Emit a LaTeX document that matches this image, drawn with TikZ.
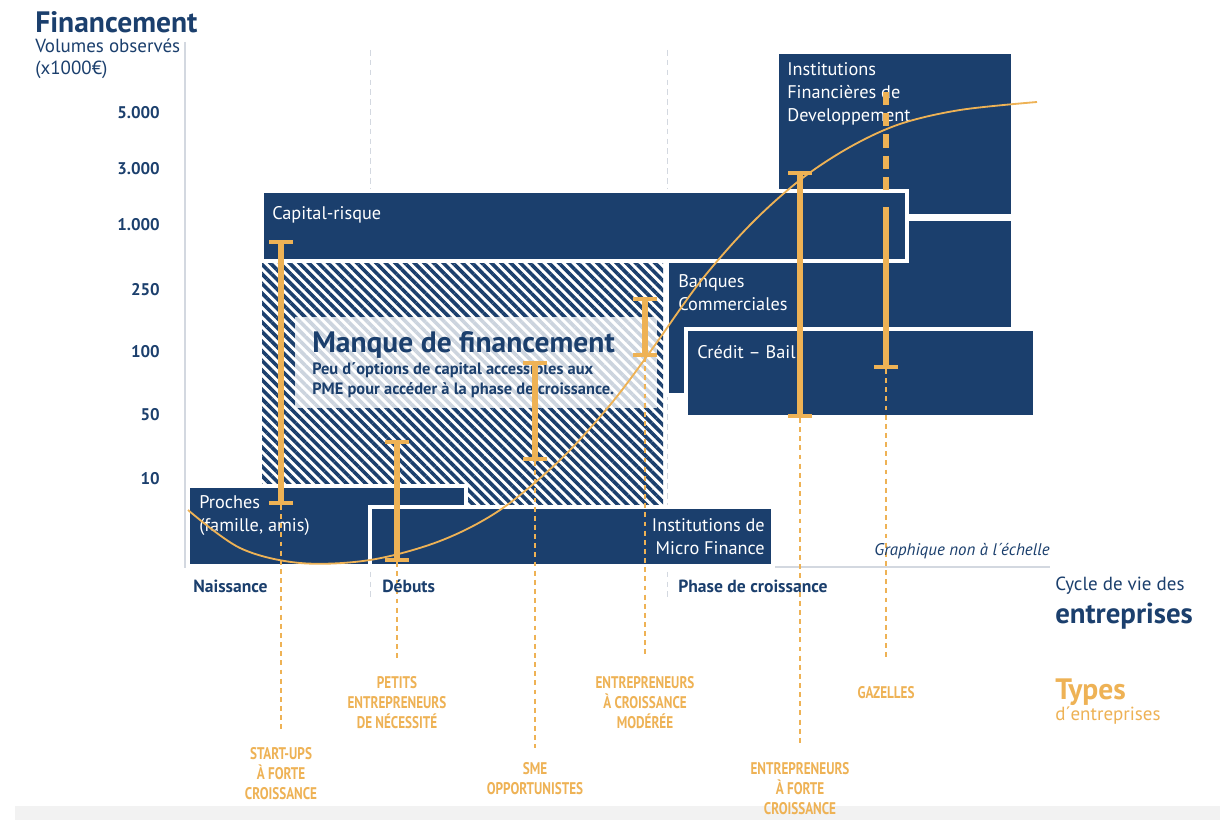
\documentclass[tikz,border=0pt]{standalone}
\usepackage{fontspec}
\setmainfont{PT Sans}
\newfontfamily\condfont[FakeStretch=0.78]{PT Sans}
\usetikzlibrary{arrows.meta,patterns.meta}
\definecolor{navy}{HTML}{1B3F6D}
\definecolor{gold}{HTML}{EEB255}
\definecolor{axisgray}{HTML}{D3D8E0}

\begin{document}
\begin{tikzpicture}[
    x=0.025cm, y=-0.025cm,
    finbox/.style={
        fill=navy,
        draw=white,
        line width=2.2pt
    },
    boxtext/.style={
        text=white,
        font=\fontsize{13}{16.3}\selectfont,
        inner sep=0pt,
        anchor=north west,
        align=left
    },
    ticklabel/.style={text=navy, font=\bfseries\fontsize{12}{14}\selectfont, inner sep=0pt, anchor=east},
    phaselabel/.style={text=navy, font=\bfseries\fontsize{12.5}{15}\selectfont, inner sep=0pt, anchor=west},
    typelabel/.style={
        text=gold,
        font=\condfont\bfseries\fontsize{12}{14.2}\selectfont,
        inner sep=0pt,
        anchor=north,
        align=center
    },
    ibar/.style={gold, line width=4.3pt, arrows={Bar[width=0.6cm, line width=0.09cm]-Bar[width=0.6cm, line width=0.09cm]}},
    dropline/.style={gold, line width=0.8pt, dash pattern=on 3.5pt off 3pt, shorten >=0.45cm},
    guide/.style={axisgray, line width=0.7pt, dash pattern=on 4pt off 3pt},
    lifecurve/.style={gold, line width=1.3pt}
]

\useasboundingbox (0,0) rectangle (1220,820);
\fill[white] (0,0) rectangle (1220,820);
\fill[black!5] (15,806) rectangle (1220,820);

\draw[guide] (370,50) -- (370,598);
\draw[guide] (667,50) -- (667,598);
\draw[axisgray, line width=1.4pt] (185,42) -- (185,567) -- (1050,567);

\node[text=navy, font=\bfseries\fontsize{21}{24}\selectfont, inner sep=0pt, anchor=west] (fin) at (35,22) {Financement};
\node[text=navy, font=\fontsize{13.5}{16}\selectfont, inner sep=0pt, anchor=west] (vol) at (35,46) {Volumes observés};
\node[text=navy, font=\fontsize{13.5}{16}\selectfont, inner sep=0pt, anchor=west] (unit) at (35,70) {(x1000€)};

\node[ticklabel] (t5000) at (160,113) {5.000};
\node[ticklabel] (t3000) at (160,169) {3.000};
\node[ticklabel] (t1000) at (160,225) {1.000};
\node[ticklabel] (t250) at (160,290) {250};
\node[ticklabel] (t100) at (160,352) {100};
\node[ticklabel] (t50) at (160,415) {50};
\node[ticklabel] (t10) at (160,479) {10};

\path[finbox] (777,52) rectangle (1013,216);
\path[finbox] (667,219) rectangle (1013,395);
\path[finbox] (262,191) rectangle (907,261);
\path[finbox] (686,329) rectangle (1035,417);

\fill[white] (262,263) rectangle (663,507);
\fill[pattern={Lines[angle=-45, distance=0.17cm, line width=0.09cm]}, pattern color=navy] (262,263) rectangle (663,507);
\fill[white, opacity=0.78] (295,317) rectangle (657,408);

\path[finbox] (188,486) rectangle (466,566);
\path[finbox] (370,507) rectangle (773,566);

\node[boxtext] (ifd) at (787,62) {Institutions\\Financières de\\Developpement};
\node[boxtext] (banques) at (678,274) {Banques\\Commerciales};
\node[boxtext] (capital) at (272,206) {Capital-risque};
\node[boxtext] (credit) at (697,345) {Crédit – Bail};
\node[boxtext] (proches) at (199,495) {Proches\\(famille, amis)};
\node[boxtext, anchor=north east, align=right] (micro) at (765,518) {Institutions de\\Micro Finance};

\node[text=navy, font=\bfseries\fontsize{21}{24}\selectfont, inner sep=0pt, anchor=north west] (manque) at (312,331) {Manque de financement};
\node[text=navy, font=\bfseries\fontsize{11.7}{14.2}\selectfont, inner sep=0pt, anchor=north west, align=left] (manquetxt) at (312,362) {Peu d´options de capital accessibles aux\\PME pour accéder à la phase de croissance.};

\draw[lifecurve] plot[smooth, tension=0.55] coordinates {
    (188,510) (240,548) (300,563) (370,560) (440,541) (500,510) (560,460) (610,405)
    (650,352) (700,282) (750,225) (800,180) (850,147) (900,124) (960,110) (1037,102)};

\coordinate (b1t) at (281,240);
\coordinate (b1b) at (281,505);
\coordinate (b2t) at (397,440);
\coordinate (b2b) at (397,562);
\coordinate (b3t) at (535,361);
\coordinate (b3b) at (535,461);
\coordinate (b4t) at (645,297);
\coordinate (b4b) at (645,357);
\coordinate (b5t) at (800,171);
\coordinate (b5b) at (800,418);
\coordinate (b6t) at (886,92);
\coordinate (b6m) at (886,196);
\coordinate (b6s) at (886,207);
\coordinate (b6b) at (886,369);

\node[typelabel] (startups) at (281,747) {START-UPS\\À FORTE\\CROISSANCE};
\node[typelabel] (petits) at (397,676) {PETITS\\ENTREPRENEURS\\DE NÉCESSITÉ};
\node[typelabel] (sme) at (535,762) {SME\\OPPORTUNISTES};
\node[typelabel] (moderee) at (645,676) {ENTREPRENEURS\\À CROISSANCE\\MODÉRÉE};
\node[typelabel] (forte) at (800,762) {ENTREPRENEURS\\À FORTE\\CROISSANCE};
\node[typelabel] (gazelles) at (886,686) {GAZELLES};

\draw[dropline] (b1b) -- (startups);
\draw[dropline] (b2b) -- (petits);
\draw[dropline, shorten >=0.35cm] (b3b) -- (sme);
\draw[dropline] (b4b) -- (moderee);
\draw[dropline, shorten >=0.42cm] (b5b) -- (forte);
\draw[dropline, shorten >=0.7cm] (b6b) -- (gazelles);

\draw[ibar] (b1t) -- (b1b);
\draw[ibar] (b2t) -- (b2b);
\draw[ibar] (b3t) -- (b3b);
\draw[ibar] (b4t) -- (b4b);
\draw[ibar] (b5t) -- (b5b);
\draw[gold, line width=4.3pt, dash pattern=on 0.33cm off 0.2cm] (b6t) -- (b6m);
\draw[gold, line width=4.3pt, arrows={-Bar[width=0.6cm, line width=0.09cm]}] (b6s) -- (b6b);

\node[text=navy, font=\itshape\fontsize{12}{14}\selectfont, inner sep=0pt, anchor=east] (echelle) at (1050,551) {Graphique non à l´échelle};

\node[phaselabel] (naissance) at (193,586) {Naissance};
\node[phaselabel] (debuts) at (382,586) {Débuts};
\node[phaselabel] (phase) at (678,586) {Phase de croissance};

\node[text=navy, font=\fontsize{13.5}{16}\selectfont, inner sep=0pt, anchor=west] (cycle) at (1055,586) {Cycle de vie des};
\node[text=navy, font=\bfseries\fontsize{20.5}{24}\selectfont, inner sep=0pt, anchor=west] (entr) at (1055,616) {entreprises};
\node[text=gold, font=\bfseries\fontsize{21}{24}\selectfont, inner sep=0pt, anchor=west] (types) at (1055,692) {Types};
\node[text=gold, font=\fontsize{13.5}{16}\selectfont, inner sep=0pt, anchor=west] (dentr) at (1055,716) {d´entreprises};

\end{tikzpicture}
\end{document}
